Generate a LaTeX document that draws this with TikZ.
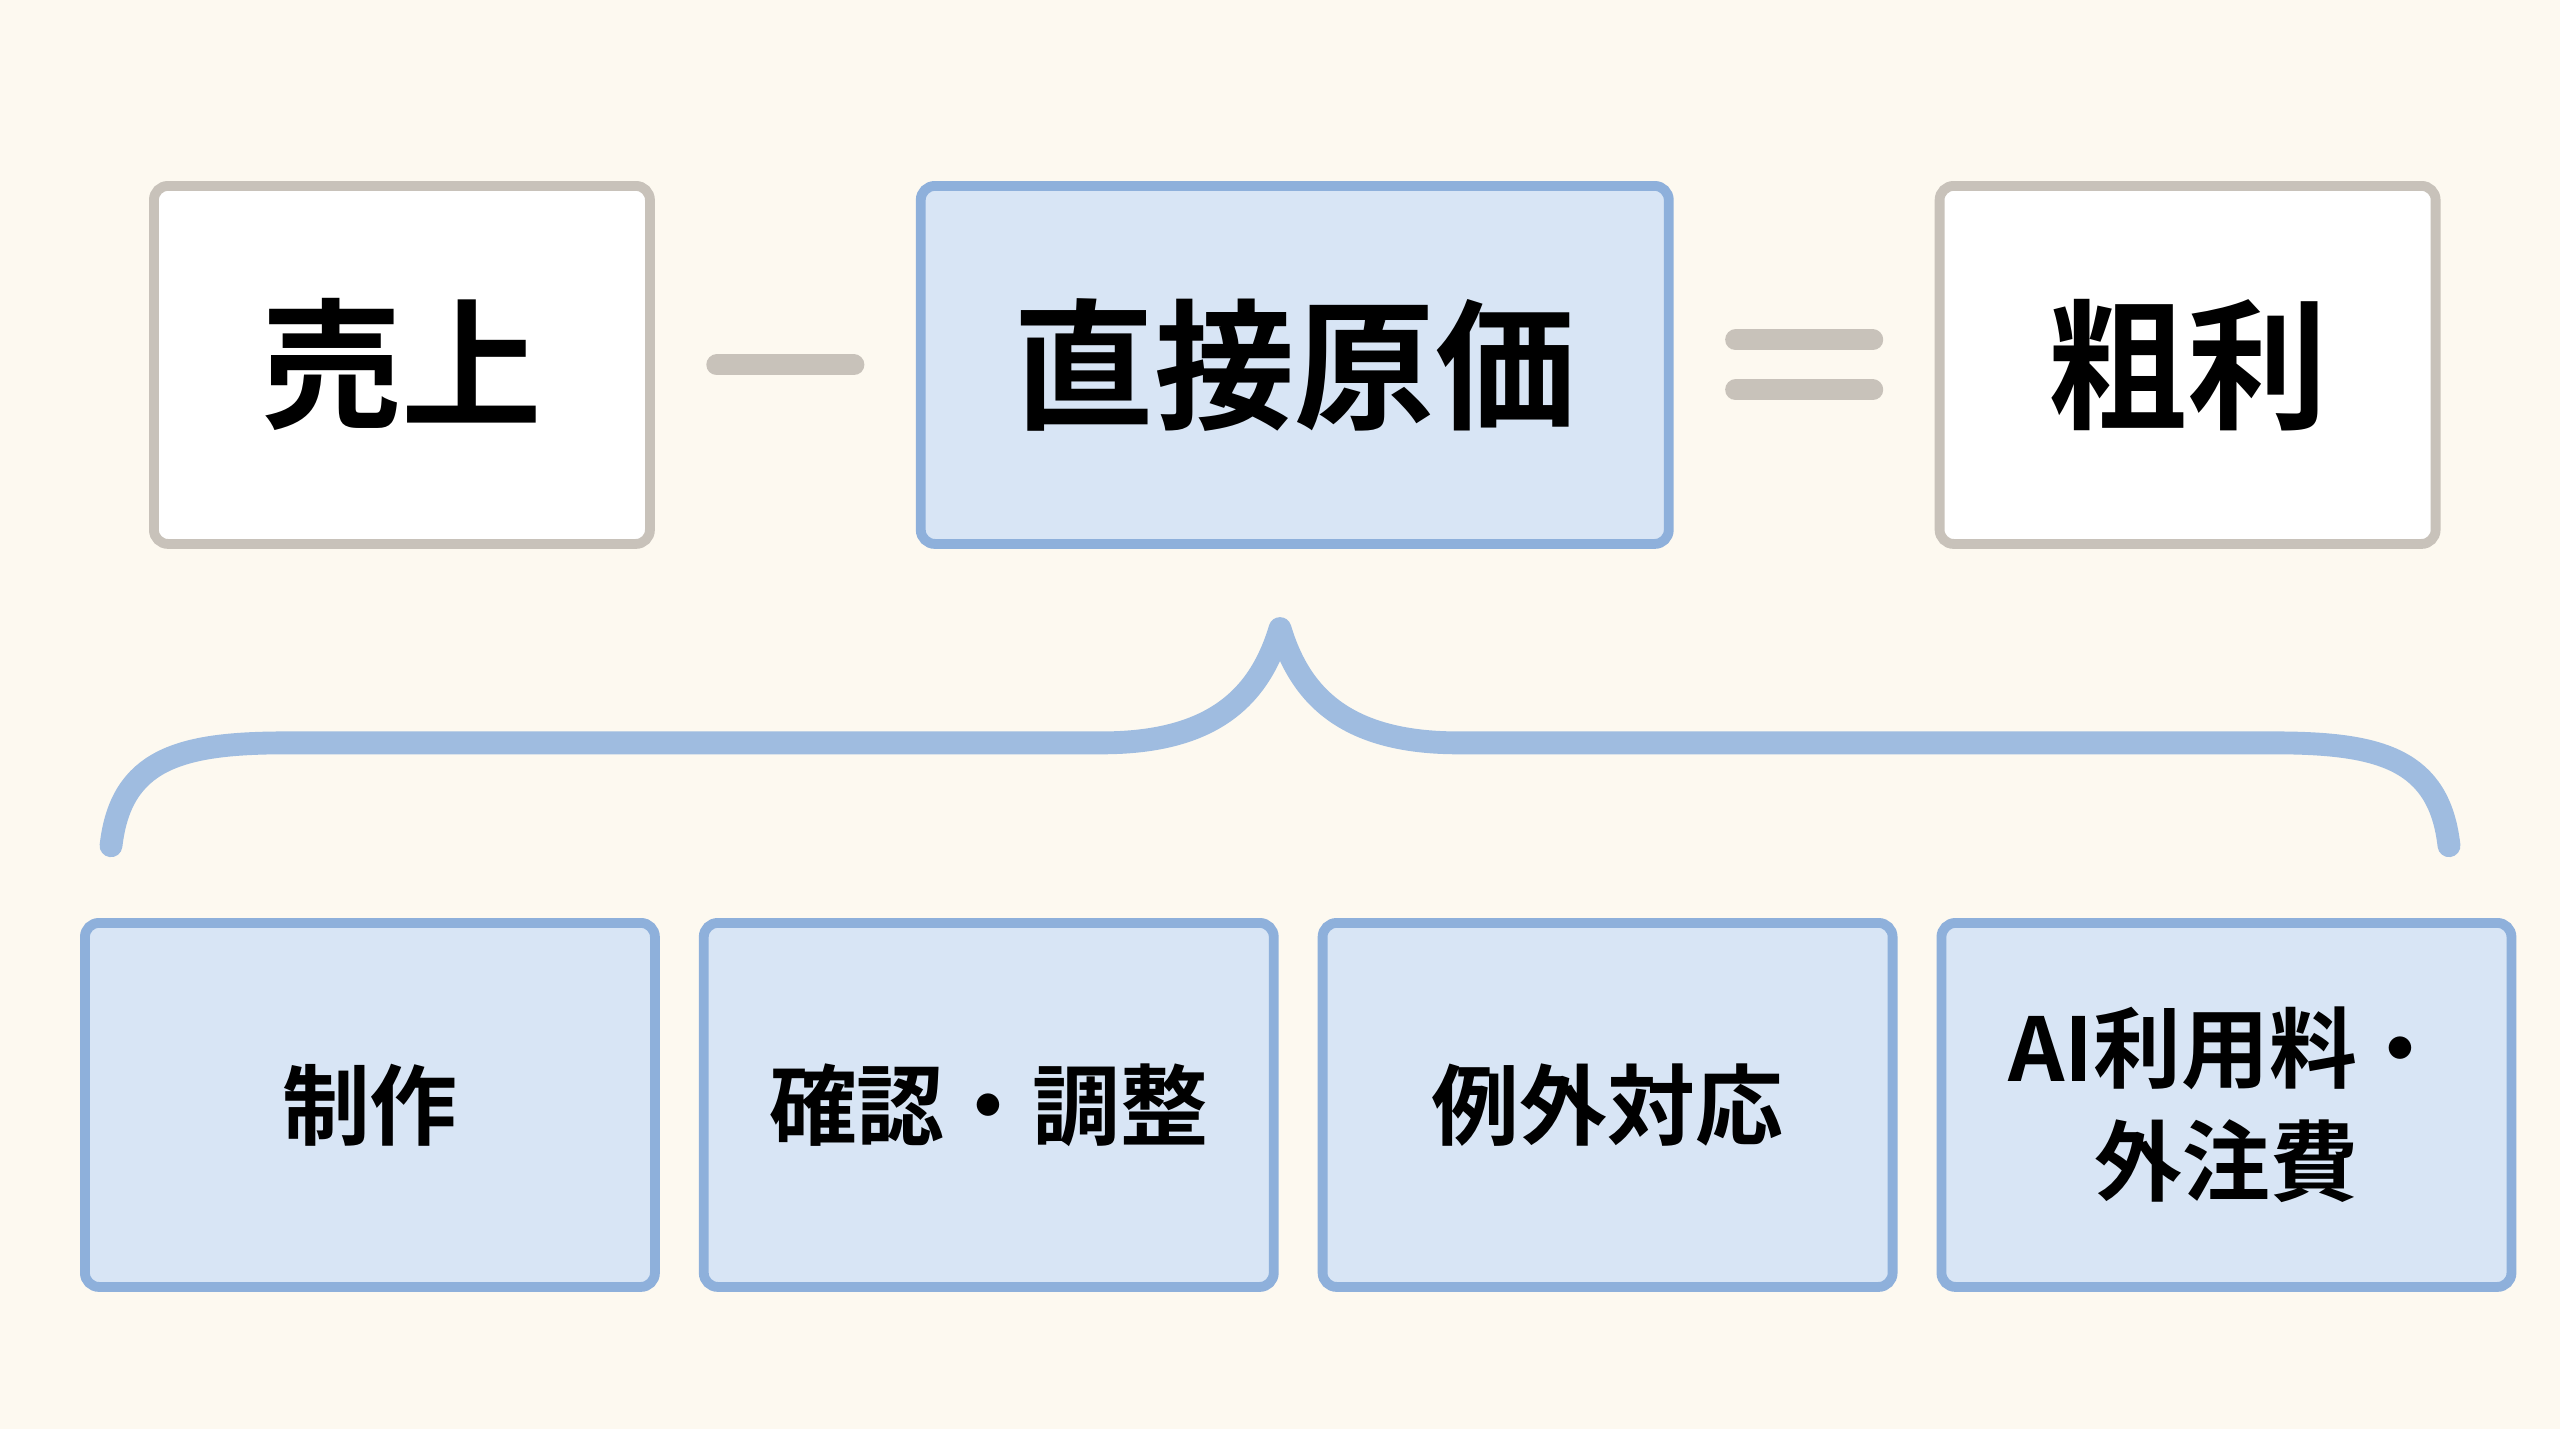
\documentclass[tikz,border=0pt]{standalone}
\usepackage{fontspec}
\setmainfont{Noto Sans CJK JP}[BoldFont={* Bold}]
\usetikzlibrary{positioning}
\definecolor{paper}{HTML}{FDF9F0}
\definecolor{costfill}{HTML}{D8E5F5}
\definecolor{costline}{HTML}{8EB0DB}
\definecolor{plainline}{HTML}{C8C2BA}
\tikzstyle{block} = [rectangle, rounded corners=4pt, line width=2.8pt, font=\bfseries]
\tikzstyle{plain} = [draw=plainline, block, fill=white, minimum width=4.96cm, minimum height=3.58cm, font=\bfseries\fontsize{40}{44}\selectfont]
\tikzstyle{cost} = [draw=costline, block, fill=costfill, minimum width=7.48cm, minimum height=3.58cm, font=\bfseries\fontsize{40}{44}\selectfont]
\tikzstyle{item} = [draw=costline, block, fill=costfill, minimum width=5.70cm, minimum height=3.64cm, align=center, font=\bfseries\fontsize{25}{32}\selectfont]
\tikzstyle{op} = [line width=6pt, line cap=round, plainline]
\begin{document}
\begin{tikzpicture}[node distance=2.61cm]
    \fill [paper] (0,0) rectangle (25.6,-14.29);
    \useasboundingbox (0,0) rectangle (25.6,-14.29);
    \node (sales) [plain, anchor=north west] at (1.49,-1.81) {売上};
    \node (direct) [cost, right=of sales] {直接原価};
    \node (gross) [plain, right=of direct] {粗利};
    \node (make) [item, anchor=north west] at (0.80,-9.18) {制作};
    \node (check) [item, right=0.39cm of make] {確認・調整};
    \node (except) [item, right=0.39cm of check] {例外対応};
    \node (ai) [item, right=0.39cm of except] {AI利用料・\\外注費};

    % Operators.
    \draw [op] ([xshift=0.62cm]sales.east) -- ([xshift=-0.62cm]direct.west);
    \draw [op] ([xshift=0.62cm, yshift=0.25cm]direct.east) -- ([xshift=-0.62cm, yshift=0.25cm]gross.west);
    \draw [op] ([xshift=0.62cm, yshift=-0.25cm]direct.east) -- ([xshift=-0.62cm, yshift=-0.25cm]gross.west);

    % Brace.
    \begin{scope}[x=0.016327cm, y=-0.016327cm]
        \draw [costline!85, line width=6.5pt, line cap=round, line join=round]
            (68,518) .. controls (74,465) and (110,455) .. (175,455) -- (675,455)
            .. controls (745,455) and (772,425) .. (784,385)
            .. controls (796,425) and (823,455) .. (893,455) -- (1393,455)
            .. controls (1458,455) and (1494,465) .. (1500,518);
    \end{scope}
\end{tikzpicture}
\end{document}
